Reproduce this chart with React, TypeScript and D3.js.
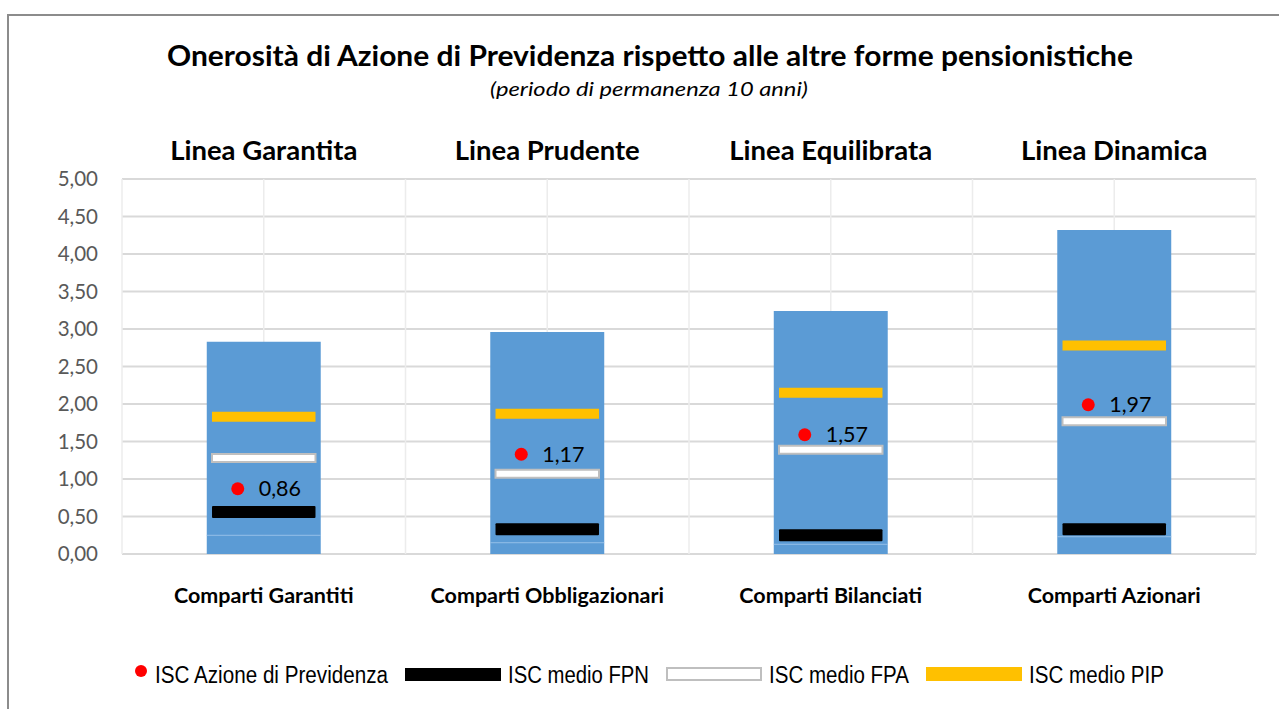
import React from "react";
import * as d3 from "d3";

// categories and values
const comparti = ["Comparti Garantiti", "Comparti Obbligazionari", "Comparti Bilanciati", "Comparti Azionari"];
const linee = ["Linea Garantita", "Linea Prudente", "Linea Equilibrata", "Linea Dinamica"];
const iscMin = [0.25, 0.15, 0.13, 0.23];
const iscMax = [2.83, 2.96, 3.24, 4.32];
const iscFPN = [0.56, 0.33, 0.25, 0.33];
const iscFPA = [1.28, 1.07, 1.39, 1.77];
const iscPIP = [1.83, 1.87, 2.15, 2.78];
const iscAzione = [0.86, 1.17, 1.57, 1.97];
// height at which the marker is drawn in the reference
const iscAzioneMarker = [0.87, 1.33, 1.59, 1.99];
const yTicks = [0, 0.5, 1, 1.5, 2, 2.5, 3, 3.5, 4, 4.5, 5];

const W = 1279;
const H = 709;
const plot = { left: 122, right: 1256, top: 179, bottom: 554 };
const font = "Lato, 'Open Sans', sans-serif";
const it = d3.formatLocale({ decimal: ",", thousands: ".", grouping: [3], currency: ["", "€"] });
const fmt = it.format(".2f");

const App = () => {
  const x = d3.scaleBand().domain(comparti).range([plot.left, plot.right]).paddingInner(0).paddingOuter(0);
  const y = d3.scaleLinear().domain([0, 5]).range([plot.bottom, plot.top]);
  const bw = x.bandwidth();
  const barW = bw * 0.402;
  const markW = bw * 0.365;
  const markH = 10;
  const halfGrid = d3.range(0, comparti.length * 2 + 1).map((i) => plot.left + (i * bw) / 2);

  const legend = [
    { label: "ISC Azione di Previdenza", kind: "dot", len: 233 },
    { label: "ISC medio FPN", kind: "fpn", len: 141 },
    { label: "ISC medio FPA", kind: "fpa", len: 140 },
    { label: "ISC medio PIP", kind: "pip", len: 135 },
  ];
  let lx = 134;
  const legendItems = legend.map((l) => {
    const symW = l.kind === "dot" ? 14 : 96;
    const item = { ...l, x: lx, symW };
    lx += symW + 7 + l.len + 17;
    return item;
  });

  return (
    <svg width={W} height={H} style={{ position: "absolute", left: 0, top: 0 }} fontFamily={font}>
      <rect x={0} y={0} width={W} height={H} fill="#fff" />
      <rect x={8} y={15} width={W + 20} height={H + 20} fill="#fff" stroke="#8c8c8c" strokeWidth={2} />

      <text x={650} y={66} textAnchor="middle" fontSize={28} fontWeight={700} textLength={966} lengthAdjust="spacingAndGlyphs">
        Onerosità di Azione di Previdenza rispetto alle altre forme pensionistiche
      </text>
      <text x={649} y={96} textAnchor="middle" fontSize={19.5} fontStyle="italic" textLength={318} lengthAdjust="spacingAndGlyphs">
        (periodo di permanenza 10 anni)
      </text>

      {/* grid */}
      {yTicks.map((t) => (
        <line key={t} x1={plot.left} x2={plot.right} y1={y(t)} y2={y(t)} stroke="#d9d9d9" strokeWidth={1.8} />
      ))}
      {halfGrid.map((gx, i) => (
        <line key={i} x1={gx} x2={gx} y1={plot.top} y2={plot.bottom} stroke="#ececec" strokeWidth={1.5} />
      ))}
      {yTicks.map((t) => (
        <text key={t} x={98} y={y(t)} dy="0.36em" textAnchor="end" fontSize={20.5} fill="#595959">
          {fmt(t)}
        </text>
      ))}

      {comparti.map((c, i) => {
        const cx = (x(c) as number) + bw / 2;
        return (
          <g key={c}>
            <text x={cx} y={160} textAnchor="middle" fontSize={27.5} fontWeight={700}>
              {linee[i]}
            </text>
            <text x={cx} y={603} textAnchor="middle" fontSize={21.5} fontWeight={700}>
              {c}
            </text>
            <rect x={cx - barW / 2} y={y(iscMin[i])} width={barW} height={y(0) - y(iscMin[i])} fill="#5b9bd5" />
            <rect x={cx - barW / 2} y={y(iscMax[i])} width={barW} height={y(iscMin[i]) - y(iscMax[i])} fill="#5b9bd5" />
            <line x1={cx - barW / 2} x2={cx + barW / 2} y1={y(iscMin[i])} y2={y(iscMin[i])} stroke="#8dbbe6" strokeWidth={1} />
            <rect x={cx - markW / 2} y={y(iscPIP[i]) - markH / 2} width={markW} height={markH} fill="#ffc000" />
            <rect x={cx - markW / 2} y={y(iscFPA[i]) - markH / 2 + 1} width={markW} height={markH - 2} fill="#fff" stroke="#bfbfbf" strokeWidth={2} />
            <rect x={cx - markW / 2} y={y(iscFPN[i]) - markH / 2 - 1} width={markW} height={markH + 2} rx={1} fill="#000" />
            <circle cx={cx - 26} cy={y(iscAzioneMarker[i])} r={6.5} fill="#ff0000" />
            <text x={cx - 5} y={y(iscAzioneMarker[i])} dy="0.36em" fontSize={21.5} fill="#000">
              {fmt(iscAzione[i])}
            </text>
          </g>
        );
      })}

      {/* legend */}
      {legendItems.map((l) => (
        <g key={l.label}>
          {l.kind === "dot" && <circle cx={l.x + 7} cy={671} r={6} fill="#ff0000" />}
          {l.kind === "fpn" && <rect x={l.x} y={668} width={l.symW} height={13} fill="#000" />}
          {l.kind === "fpa" && <rect x={l.x + 1} y={668} width={l.symW - 2} height={12} fill="#fff" stroke="#bfbfbf" strokeWidth={2} />}
          {l.kind === "pip" && <rect x={l.x} y={667} width={l.symW} height={14} fill="#ffc000" />}
          <text x={l.x + l.symW + 7} y={683} fontSize={23} fontFamily="'Liberation Sans', Arial, sans-serif" textLength={l.len} lengthAdjust="spacingAndGlyphs" fill="#000">
            {l.label}
          </text>
        </g>
      ))}
    </svg>
  );
};

export default App;
